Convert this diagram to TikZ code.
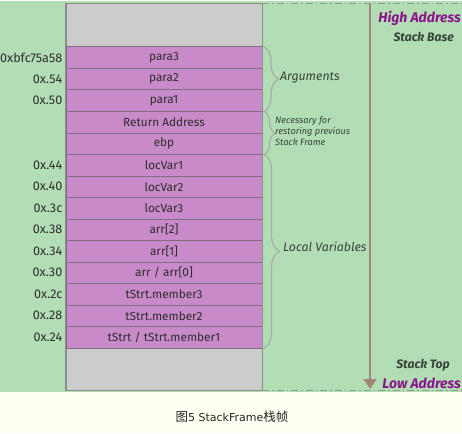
\documentclass[tikz,border=0pt]{standalone}
\usepackage{fontspec}
\setmainfont{Fira Sans}
\newfontfamily\cjk{Noto Sans CJK SC}
\newfontfamily\capfont{DejaVu Sans}
\usetikzlibrary{arrows.meta,decorations.pathreplacing}
\definecolor{bggreen}{RGB}{179,222,181}
\definecolor{cream}{RGB}{255,255,242}
\definecolor{cellpurple}{RGB}{200,138,200}
\definecolor{cellgray}{RGB}{204,204,204}
\definecolor{cellline}{RGB}{130,110,130}
\definecolor{boxline}{RGB}{140,140,140}
\definecolor{txtdark}{RGB}{45,45,45}
\definecolor{hiaddr}{RGB}{139,20,139}
\definecolor{stacktxt}{RGB}{55,68,58}
\definecolor{arrowc}{RGB}{160,136,120}
\definecolor{bracec}{RGB}{165,175,165}
\definecolor{dashc}{RGB}{140,155,140}
\tikzset{
  cell/.style={draw=cellline, line width=1pt, fill=cellpurple, minimum width=196pt,
    minimum height=21.5pt, inner sep=0pt, font=\fontsize{11.8}{13}\selectfont, text=txtdark},
  graybox/.style={draw=boxline, line width=1pt, fill=cellgray, minimum width=196pt, inner sep=0pt},
  addr/.style={anchor=east, inner sep=0pt, font=\fontsize{12.6}{14}\selectfont, text=txtdark},
  bracestyle/.style={draw=bracec, line width=1.2pt, decorate, decoration={brace, amplitude=15pt}},
  side/.style={inner sep=0pt, font=\fontsize{12.3}{14}\selectfont\itshape, text=stacktxt},
  endlbl/.style={anchor=east, inner sep=0pt, font=\fontsize{14}{16}\selectfont\bfseries\itshape, text=hiaddr},
  stklbl/.style={anchor=east, inner sep=0pt, font=\fontsize{12.2}{14}\selectfont\bfseries\itshape, text=stacktxt},
  dashline/.style={draw=dashc, line width=1pt, dash pattern=on 7pt off 3pt on 1.5pt off 3pt},
}
\begin{document}
\begin{tikzpicture}[x=1pt,y=-1pt]
\useasboundingbox (0,0) rectangle (462,433);
\fill[cream] (0,0) rectangle (462,433);
\fill[bggreen] (0,1.5) rectangle (462,392);
% gray blocks
\node[graybox, minimum height=43pt] (gtop) at (164,25.5) {};
\node[graybox, minimum height=42pt] (gbot) at (164,369) {};
% cells
\foreach \i/\t in {0/para3,1/para2,2/para1,3/Return Address,4/ebp,5/locVar1,6/locVar2,7/locVar3,
  8/{arr[2]},9/{arr[1]},10/{arr / arr[0]},11/tStrt.member3,12/tStrt.member2,13/{tStrt / tStrt.member1}}
  \node[cell] (c\i) at (164,57.75+21.5*\i) {\t};
\draw[boxline, line width=1pt] (gtop.north west) rectangle (gbot.south east);
% addresses
\foreach \i/\a in {0/0xbfc75a58,1/0x.54,2/0x.50,5/0x.44,6/0x.40,7/0x.3c,8/0x.38,9/0x.34,10/0x.30,11/0x.2c,12/0x.28,13/0x.24}
  \node[addr] (a\i) at ([xshift=-3pt]c\i.west) {\a};
% braces
\draw[bracestyle] ([xshift=1pt]c0.north east) -- ([xshift=1pt]c2.south east);
\draw[bracestyle,decoration={brace,amplitude=12pt}] ([xshift=1pt]c3.north east) -- ([xshift=1pt]c4.south east);
\draw[bracestyle,decoration={brace,amplitude=16pt}] ([xshift=1pt]c5.north east) -- ([xshift=1pt]c13.south east);
\node[side, anchor=west] (largs) at (280,78) {Arguments};
\node[side, anchor=west, align=left, font=\fontsize{9.2}{11}\selectfont\itshape] (lnec) at (275,131) {Necessary for\\restoring previous\\Stack Frame};
\node[side, anchor=west] (lloc) at (283,247) {Local Variables};
% dashed boundaries
\coordinate (dtl) at (262,4);
\coordinate (dtr) at (462,4);
\coordinate (dbl) at (262,390);
\coordinate (dbr) at (462,390);
\draw[dashline] (dtl) -- (dtr);
\draw[dashline] (dbl) -- (dbr);
% growth arrow
\coordinate (atop) at (370,4);
\coordinate (abot) at (370,389);
\draw[arrowc, line width=1.3pt, -{Triangle[width=13pt,length=10pt]}] (atop) -- (abot);
% end labels
\node[endlbl] (hi) at (461,18) {High Address};
\node[stklbl] (sb) at (454,37) {Stack Base};
\node[stklbl] (st) at (450,365) {Stack Top};
\node[endlbl] (lo) at (461,383) {Low Address};
% caption
\node[inner sep=0pt, text=black!85] (cap) at (232,417) {\cjk\fontsize{12.5}{14}\selectfont 图\capfont\fontsize{11}{14}\selectfont 5 StackFrame\cjk\fontsize{12.5}{14}\selectfont 栈帧};
\end{tikzpicture}
\end{document}
